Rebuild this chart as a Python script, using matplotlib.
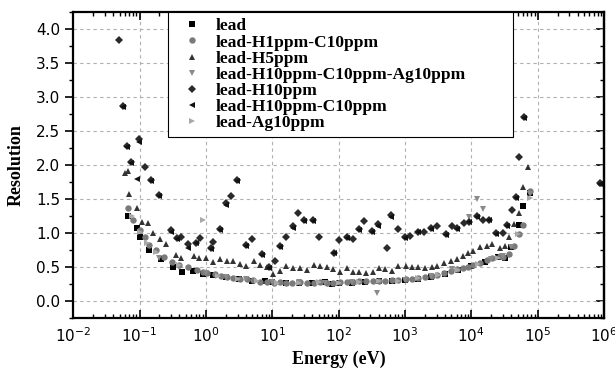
import numpy as np
import matplotlib
matplotlib.use("Agg")
import matplotlib.pyplot as plt
from matplotlib.ticker import LogLocator, MultipleLocator, NullFormatter

# energies (eV) and resolutions
e_lead = [0.067, 0.092, 0.10, 0.14, 0.21, 0.32, 0.44, 0.63, 0.9, 1.3, 2.0, 3.2, 5.0,
          7.9, 10, 16, 25, 40, 63, 80, 100, 160, 250, 400, 630, 1000, 1600, 2500,
          4000, 6300, 10000, 16000, 25000, 32000, 40000, 52000, 60000, 76000]
r_lead = [1.25, 1.07, 0.94, 0.75, 0.62, 0.50, 0.43, 0.44, 0.40, 0.38, 0.35, 0.32, 0.30,
          0.29, 0.28, 0.27, 0.27, 0.27, 0.28, 0.25, 0.27, 0.27, 0.28, 0.29, 0.29, 0.31,
          0.33, 0.35, 0.40, 0.45, 0.52, 0.58, 0.65, 0.64, 0.80, 1.12, 1.40, 1.59]

e_h1c10 = [0.067, 0.080, 0.10, 0.12, 0.14, 0.18, 0.23, 0.31, 0.40, 0.54, 0.74, 0.90,
           1.05, 1.35, 1.7, 2.1, 2.6, 3.3, 4.1, 5.2, 6.5, 8.3, 10.5, 13, 16, 20, 26,
           33, 42, 52, 66, 82, 105, 134, 165, 203, 260, 330, 406, 500, 640, 785, 1030,
           1270, 1570, 2000, 2550, 3040, 3870, 4930, 6070, 7470, 8900, 10600, 13500,
           17200, 20400, 27000, 30500, 36800, 43800, 52100, 59800, 76000, 865000]
r_h1c10 = [1.37, 1.19, 1.04, 0.94, 0.82, 0.75, 0.65, 0.57, 0.53, 0.50, 0.46, 0.43,
           0.42, 0.40, 0.37, 0.35, 0.34, 0.32, 0.32, 0.31, 0.28, 0.28, 0.27, 0.28,
           0.27, 0.27, 0.28, 0.27, 0.27, 0.28, 0.27, 0.27, 0.28, 0.28, 0.28, 0.29,
           0.29, 0.29, 0.30, 0.30, 0.31, 0.31, 0.32, 0.33, 0.34, 0.36, 0.37, 0.39,
           0.41, 0.44, 0.47, 0.49, 0.50, 0.53, 0.56, 0.60, 0.63, 0.66, 0.65, 0.69,
           0.81, 0.98, 1.12, 1.62, 1.73]

e_h5 = [0.061, 0.067, 0.070, 0.092, 0.109, 0.135, 0.160, 0.204, 0.252, 0.356, 0.424,
        0.66, 0.79, 1.0, 1.28, 1.64, 2.09, 2.57, 3.28, 4.03, 5.32, 6.55, 8.35, 10.3,
        13.1, 16.1, 20.6, 26.2, 33.4, 42.6, 52.5, 66.9, 82.4, 105, 134, 165, 203, 259,
        330, 406, 500, 637, 785, 1035, 1275, 1570, 2000, 2550, 3035, 3865, 4930, 6070,
        7470, 8890, 10570, 13490, 17180, 20420, 26970, 32060, 36810, 43850, 52120,
        59850, 71120]
r_h5 = [1.88, 1.91, 1.57, 1.37, 1.16, 1.15, 1.00, 0.91, 0.84, 0.68, 0.63,
        0.66, 0.63, 0.64, 0.57, 0.62, 0.59, 0.59, 0.54, 0.51, 0.59, 0.53, 0.50, 0.40,
        0.44, 0.51, 0.49, 0.49, 0.46, 0.53, 0.52, 0.50, 0.47, 0.43, 0.49, 0.43, 0.43,
        0.41, 0.43, 0.49, 0.47, 0.44, 0.51, 0.51, 0.50, 0.50, 0.49, 0.50, 0.51, 0.56,
        0.59, 0.62, 0.66, 0.71, 0.74, 0.79, 0.81, 0.84, 0.78, 0.81, 0.94, 1.13, 1.29,
        1.68, 1.97]

e_h10c10ag10 = [0.20, 0.40, 1.0, 2.0, 4.0, 10, 25, 63, 160, 380, 1000, 2500, 5100,
                9200, 12100, 15000, 20000, 30000, 40000, 76000]
r_h10c10ag10 = [0.63, 0.50, 0.42, 0.35, 0.32, 0.28, 0.28, 0.27, 0.28, 0.12, 0.31,
                0.37, 0.47, 1.23, 1.50, 1.35, 0.62, 0.66, 0.80, 1.57]

e_h10 = [0.0493, 0.0567, 0.065, 0.0747, 0.0986, 0.121, 0.150, 0.197, 0.299, 0.368,
         0.424, 0.54, 0.711, 0.818, 1.20, 1.28, 1.64, 2.01, 2.40, 2.95, 4.03, 4.96,
         7.02, 8.95, 11.0, 13.1, 16.1, 20.6, 24.5, 30.1, 41.1, 50.7, 85.3, 101, 134,
         165, 203, 241, 318, 392, 535, 615, 785, 1000, 1190, 1570, 1930, 2470, 3035,
         4140, 5100, 6070, 7740, 9210, 12140, 14960, 18420, 23460, 29950, 34380,
         40850, 46960, 52120, 61970, 865000]
r_h10 = [3.84, 2.87, 2.28, 2.05, 2.38, 1.97, 1.78, 1.56, 1.04, 0.93,
         0.94, 0.84, 0.86, 0.93, 0.78, 0.87, 1.06, 1.44, 1.54, 1.78, 0.82, 0.91,
         0.69, 0.50, 0.59, 0.81, 0.95, 1.10, 1.29, 1.19, 1.20, 0.94, 0.71, 0.90, 0.94,
         0.91, 1.06, 1.18, 1.03, 1.13, 0.78, 1.26, 1.06, 0.94, 0.96, 1.02, 1.02, 1.07,
         1.10, 0.98, 1.10, 1.07, 1.15, 1.17, 1.25, 1.20, 1.20, 1.00, 1.00, 1.12, 1.34,
         1.53, 2.12, 2.71, 1.74]

e_h10c10 = [0.0567, 0.065, 0.0747, 0.092, 0.0986, 0.150, 0.197, 0.299, 0.368, 0.54,
            0.711, 1.20, 1.64, 2.01, 2.95, 4.03, 7.02, 8.95, 13.1, 20.6, 30.1, 41.1,
            85.3, 134, 203, 318, 392, 615, 1000, 1570, 2470, 4140, 6070, 9210, 12140,
            18420, 23460, 34380, 46960, 61970, 865000]
r_h10c10 = [2.85, 2.27, 2.03, 1.80, 2.34, 1.76, 1.55, 1.02, 0.92, 0.78,
            0.85, 0.77, 1.04, 1.42, 1.76, 0.81, 0.68, 0.49, 0.80, 1.08, 1.18, 1.18,
            0.70, 0.93, 1.05, 1.02, 1.11, 1.24, 0.93, 1.01, 1.06, 0.97, 1.06, 1.16,
            1.23, 1.19, 0.99, 1.11, 1.52, 2.70, 1.72]

e_ag10 = [0.078, 0.10, 0.13, 0.18, 0.40, 0.9, 1.5, 3.0, 6.0, 12, 25, 50, 100, 200,
          400, 800, 1600, 3200, 6400, 12800, 25600, 51000, 76000]
r_ag10 = [1.25, 1.01, 0.86, 0.72, 0.53, 1.20, 0.37, 0.33, 0.29, 0.27, 0.27, 0.28,
          0.27, 0.28, 0.29, 0.30, 0.34, 0.38, 0.46, 0.55, 0.64, 0.98, 1.51]

series = [
    ("lead", e_lead, r_lead, "s", "#000000"),
    ("lead-H1ppm-C10ppm", e_h1c10, r_h1c10, "o", "#7a7a7a"),
    ("lead-H5ppm", e_h5, r_h5, "^", "#333333"),
    ("lead-H10ppm-C10ppm-Ag10ppm", e_h10c10ag10, r_h10c10ag10, "v", "#8a8a8a"),
    ("lead-H10ppm", e_h10, r_h10, "D", "#2a2a2a"),
    ("lead-H10ppm-C10ppm", e_h10c10, r_h10c10, "<", "#111111"),
    ("lead-Ag10ppm", e_ag10, r_ag10, ">", "#a8a8a8"),
]

fig = plt.figure(figsize=(6.15, 3.69), dpi=100)
ax = fig.add_axes([0.119, 0.138, 0.863, 0.829])

for name, e, r, m, c in series:
    ms = 4.0 if m == "D" else 4.6
    ax.plot(e, r, linestyle="none", marker=m, color=c, markersize=ms,
            markeredgewidth=0, label=name)

ax.set_xscale("log")
ax.set_xlim(1e-2, 1e6)
ax.set_ylim(-0.25, 4.25)
ax.xaxis.set_major_locator(LogLocator(base=10, numticks=20))
ax.xaxis.set_minor_locator(LogLocator(base=10, subs=np.arange(2, 10), numticks=20))
ax.xaxis.set_minor_formatter(NullFormatter())
ax.yaxis.set_major_locator(MultipleLocator(0.5))
ax.yaxis.set_minor_locator(MultipleLocator(0.25))

ax.grid(True, which="major", linestyle=(0, (3, 3)), color="#b0b0b0", linewidth=0.8)

for s in ax.spines.values():
    s.set_linewidth(1.6)

ax.tick_params(axis="x", which="both", direction="in", top=True, bottom=True,
               labelsize=11, pad=6)
ax.tick_params(axis="x", which="major", length=6, width=1.2)
ax.tick_params(axis="x", which="minor", length=3, width=1.0)
ax.tick_params(axis="y", which="both", direction="out", left=True, right=False,
               labelsize=11)
ax.tick_params(axis="y", which="major", length=6, width=1.2)
ax.tick_params(axis="y", which="minor", length=3, width=1.0)

# right side ticks point inwards
sec = ax.secondary_yaxis("right")
sec.yaxis.set_major_locator(MultipleLocator(0.5))
sec.yaxis.set_minor_locator(MultipleLocator(0.25))
sec.tick_params(axis="y", which="both", direction="in", labelright=False)
sec.tick_params(axis="y", which="major", length=6, width=1.2)
sec.tick_params(axis="y", which="minor", length=3, width=1.0)
sec.spines["right"].set_linewidth(1.6)

for lab in ax.get_xticklabels() + ax.get_yticklabels():
    lab.set_family("DejaVu Sans")

ax.set_xlabel("Energy (eV)", family="Liberation Serif", fontweight="bold",
              fontsize=13, labelpad=4)
ax.set_ylabel("Resolution", family="Liberation Serif", fontweight="bold",
              fontsize=13, labelpad=8)

leg = ax.legend(loc="upper left", bbox_to_anchor=(0.179, 0.0, 0.65, 1.0),
                mode="expand", borderaxespad=0,
                prop={"family": "Liberation Serif", "weight": "bold", "size": 12.5},
                frameon=True, fancybox=False, edgecolor="black", framealpha=1,
                labelspacing=0.0, handletextpad=0.4, borderpad=0.35,
                handlelength=2.0, markerscale=1.0)
leg.get_frame().set_linewidth(0.8)

fig.savefig("out.png", dpi=100)
